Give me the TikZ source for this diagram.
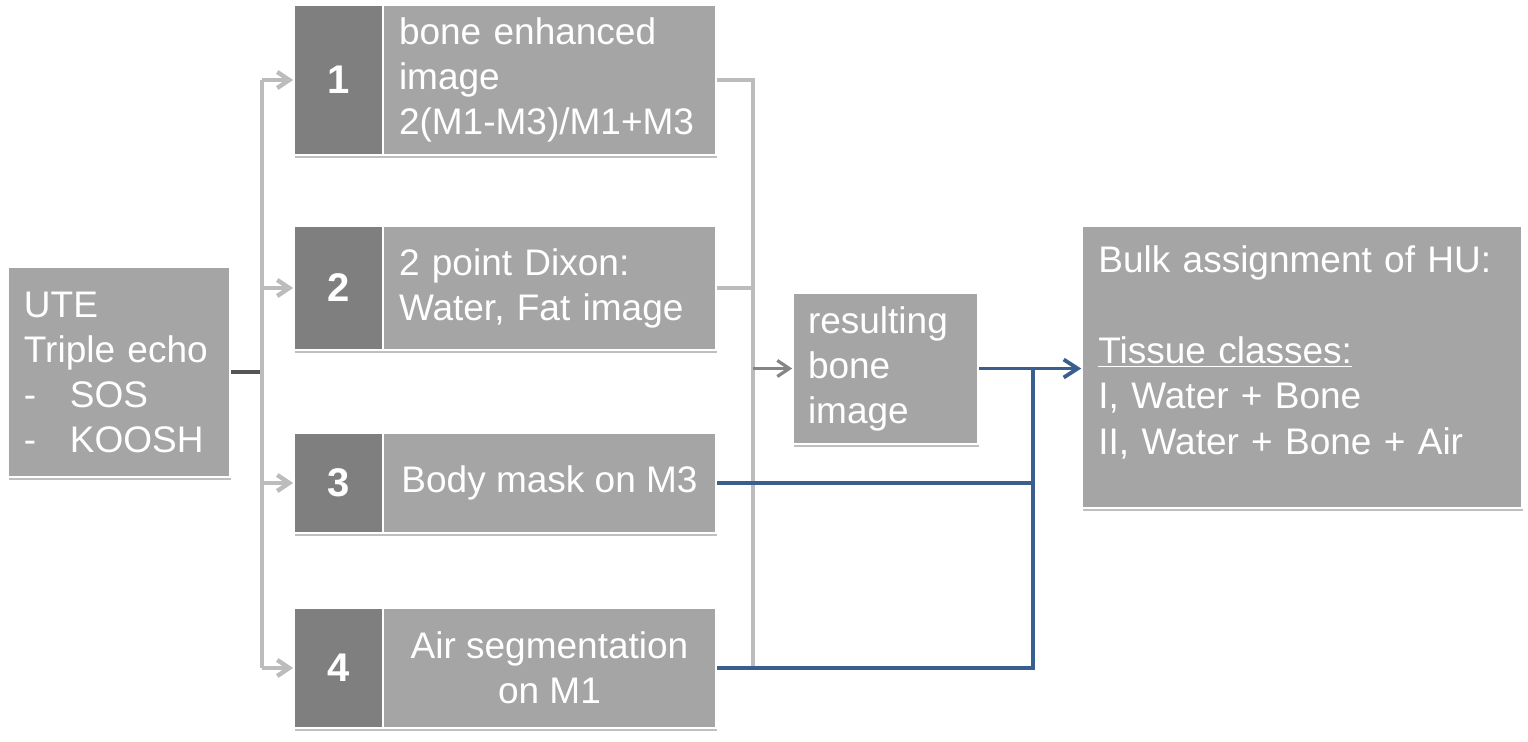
\documentclass[tikz,border=0pt]{standalone}
\usepackage{fontspec}
\setmainfont{Liberation Sans}
\usetikzlibrary{arrows.meta,shadows,calc}
\definecolor{boxlight}{HTML}{A5A5A5}
\definecolor{boxdark}{HTML}{7F7F7F}
\definecolor{linegray}{HTML}{BCBCBC}
\definecolor{linedark}{HTML}{555555}
\definecolor{arrowgray}{HTML}{858585}
\definecolor{blueline}{HTML}{3A5F8E}
\tikzset{
  box/.style={draw=white, line width=0.8pt, fill=boxlight, text=white, inner sep=0pt,
    font=\fontsize{18.5pt}{22.5pt}\selectfont,
    drop shadow={shadow xshift=0.6pt, shadow yshift=-1.4pt, opacity=0.25, fill=black}},
  numbox/.style={box, fill=boxdark, font=\fontsize{20pt}{24pt}\selectfont\bfseries},
  gline/.style={draw=linegray, line width=2.2pt},
  garrow/.style={gline, -{Straight Barb[length=6pt,width=8pt]}},
  dline/.style={draw=linedark, line width=1.6pt},
  darrow/.style={draw=arrowgray, line width=1.6pt, -{Straight Barb[length=6pt,width=8pt]}},
  bline/.style={draw=blueline, line width=1.9pt},
  barrow/.style={bline, -{Straight Barb[length=7pt,width=9pt]}},
}
\begin{document}
\begin{tikzpicture}[x=0.5pt,y=-0.5pt]
\useasboundingbox (0,0) rectangle (1528,741);
% input box
\node[box, minimum width=111pt, minimum height=105pt, text width=95pt, align=left] (ute) at (119,372)
  {UTE\\Triple echo\\\makebox[23pt][l]{-}SOS\\\makebox[23pt][l]{-}KOOSH};
% step boxes
\node[numbox, minimum width=44.5pt, minimum height=75pt] (n1) at (338.5,80) {1};
\node[box, minimum width=166.5pt, minimum height=75pt, text width=150.5pt, align=left] (l1) at (549.5,80)
  {bone enhanced\\image\\2(M1-M3)/M1+M3};
\node[numbox, minimum width=44.5pt, minimum height=62pt] (n2) at (338.5,288) {2};
\node[box, minimum width=166.5pt, minimum height=62pt, text width=150.5pt, align=left] (l2) at (549.5,288)
  {2 point Dixon:\\Water, Fat image};
\node[numbox, minimum width=44.5pt, minimum height=50pt] (n3) at (338.5,483) {3};
\node[box, minimum width=166.5pt, minimum height=50pt, align=center] (l3) at (549.5,483)
  {Body mask on M3};
\node[numbox, minimum width=44.5pt, minimum height=60pt] (n4) at (338.5,668) {4};
\node[box, minimum width=166.5pt, minimum height=60pt, align=center] (l4) at (549.5,668)
  {Air segmentation\\on M1};
% result box
\node[box, minimum width=92.5pt, minimum height=75.5pt, text width=77.5pt, align=left] (res) at (885.5,368.5)
  {resulting\\bone\\image};
% output box
\node[box, minimum width=220pt, minimum height=141pt] (bulk) at (1302,367) {};
\node[anchor=north west, inner sep=0pt, text=white, text width=205pt, align=left,
  font=\fontsize{18.5pt}{22.75pt}\selectfont] (bulktext) at (1098,245)
  {Bulk assignment of HU:\\[22.75pt]\underline{Tissue classes:}\\I, Water + Bone\\II, Water + Bone + Air};
% connectors from input
\coordinate (split) at (262,372);
\draw[dline] (ute.east) -- (split);
\draw[gline] (split |- n1.west) -- (split |- n4.west);
\foreach \k in {1,2,3,4} {\draw[garrow] (split |- n\k.west) -- (n\k.west);}
% gray merge into result
\coordinate (merge) at (753,372);
\draw[gline] (l1.east) -| (merge |- l4.east) -- (l4.east);
\draw[gline] (l2.east) -- (merge |- l2.east);
\draw[darrow] (merge |- res.west) -- (res.west);
% blue to output
\coordinate (join) at (1033,372);
\draw[bline] (l3.east) -- (join |- l3.east);
\draw[bline] (l4.east) -| (join |- res.east);
\draw[barrow] (res.east) -- (res.east -| bulk.west);
\end{tikzpicture}
\end{document}
